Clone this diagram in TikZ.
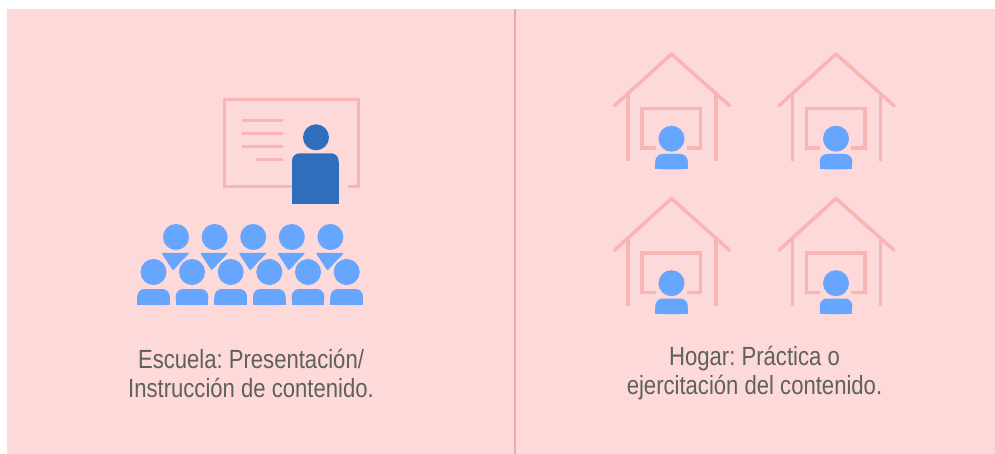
\documentclass[tikz,border=0pt]{standalone}
\usepackage{fontspec}
\setmainfont[FakeStretch=0.84]{Liberation Sans}
\definecolor{bgpink}{HTML}{FDD9D9}
\definecolor{linepink}{HTML}{F9B4B4}
\definecolor{divpink}{HTML}{F4A6AE}
\definecolor{lightblue}{HTML}{66A6FF}
\definecolor{darkblue}{HTML}{2F6DBD}
\definecolor{txt}{HTML}{5F6060}
\tikzset{
  rosestroke/.style={draw=linepink,line width=3.5pt},
  boardline/.style={draw=linepink,line width=3pt},
  caption/.style={align=center,text=txt,font=\fontsize{26.3}{29}\selectfont\frenchspacing,inner sep=0pt},
}
% rounded-top body: x-centre, top y, half width, bottom y
\newcommand{\bodyshape}[5]{%
  \fill[#5,rounded corners=7.5] (#1-#3,#2) rectangle (#1+#3,#4);
  \fill[#5] (#1-#3,#2+9) rectangle (#1+#3,#4);
}
\newcommand{\house}[2]{%
  \begin{scope}[shift={(#1,#2)}]
    \draw[rosestroke,line join=round,line cap=round] (-57,51.7) -- (0,0) -- (58,51.7);
    \draw[rosestroke] (-43.5,40) -- (-43.5,107);
    \draw[rosestroke] (44.5,40) -- (44.5,107);
    \draw[rosestroke] (-16,94) -- (-29.5,94) -- (-29.5,54.5) -- (29,54.5) -- (29,94) -- (15,94);
    \fill[bgpink] (0,84.7) circle (16.5);
    \fill[lightblue] (0,84.7) circle (13);
    \bodyshape{0}{100}{16.3}{115.5}{lightblue}
  \end{scope}}
\begin{document}
\begin{tikzpicture}[x=1pt,y=-1pt]
\useasboundingbox (0,0) rectangle (995,454);
\fill[white] (0,0) rectangle (995,454);
\fill[bgpink] (7,9.5) rectangle (995,454);
\draw[divpink,line width=2.5pt] (515,9.5) -- (515,454);
% board
\draw[rosestroke] (348,186.5) -- (358.5,186.5) -- (358.5,99.5) -- (224.5,99.5) -- (224.5,186.5) -- (295,186.5);
\draw[boardline] (242,121) -- (283,121);
\draw[boardline] (242,133.5) -- (283,133.5);
\draw[boardline] (242,146.5) -- (283,146.5);
\draw[boardline] (256,159.5) -- (283,159.5);
% teacher
\fill[darkblue] (316,137.3) circle (13);
\bodyshape{315.3}{153.3}{23.3}{204}{darkblue}
% back row
\foreach \x in {176,214.6,253.2,291.8,330.4}{
  \fill[lightblue] (\x,237) circle (13);
  \fill[lightblue,rounded corners=1] (\x-14.5,253) -- (\x+13.5,253) -- (\x-3,270.5) -- cycle;
}
% front row
\foreach \x in {153.5,192,230.7,269.3,308,346.7}{
  \fill[bgpink] (\x,272) circle (15);
  \fill[lightblue] (\x,272) circle (13);
  \bodyshape{\x}{289}{16.3}{305}{lightblue}
}
\house{671.5}{54}
\house{836}{54}
\house{671.5}{198.5}
\house{836}{198.5}
\node[caption] (escuela) at (251,373) {Escuela: Presentación/\\Instrucción de contenido.};
\node[caption] (hogar) at (754.5,373) {Hogar: Práctica o\\ejercitación del contenido.};
\end{tikzpicture}
\end{document}
